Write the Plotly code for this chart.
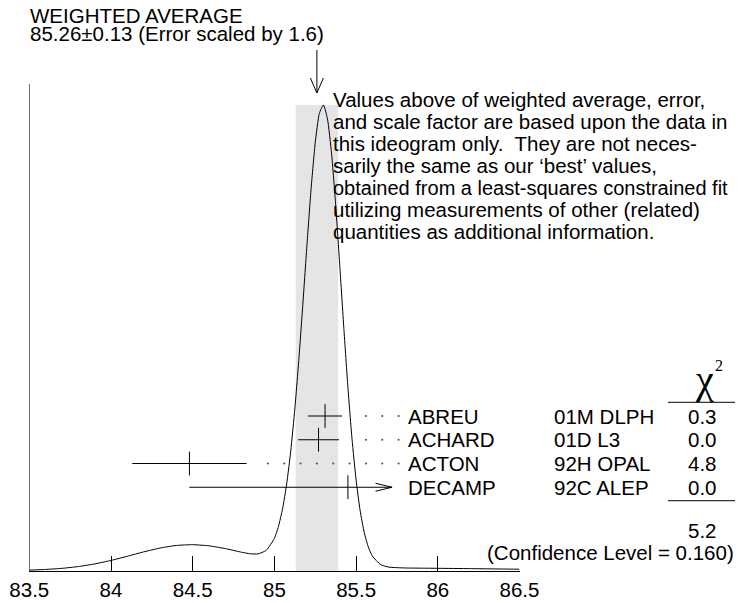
import plotly.graph_objects as go

# ---------------- data ----------------
authors = ["ABREU", "ACHARD", "ACTON", "DECAMP"]
refs = ["01M DLPH", "01D L3", "92H OPAL", "92C ALEP"]
values = [85.31, 85.27, 84.48, 85.45]
errors = [0.104, 0.125, 0.35, 0.97]
chi2 = ["0.3", "0.0", "4.8", "0.0"]
chi2_total = "5.2"
conf_level = "0.160"
w_avg = 85.26
w_err = 0.13
scale_factor = 1.6

tick_vals = [83.5, 84, 84.5, 85, 85.5, 86, 86.5]
tick_text = ["83.5", "84", "84.5", "85", "85.5", "86", "86.5"]

# ideogram curve (arbitrary height units)
ideogram_x = [83.5, 83.6, 83.7, 83.8, 83.9, 84.0, 84.1, 84.2, 84.3, 84.4, 84.5,
              84.6, 84.7, 84.8, 84.85, 84.9, 84.95, 85.0, 85.025, 85.05, 85.075,
              85.1, 85.125, 85.15, 85.175, 85.2, 85.225, 85.25, 85.275, 85.3,
              85.325, 85.35, 85.375, 85.4, 85.425, 85.45, 85.475, 85.5, 85.525,
              85.55, 85.575, 85.6, 85.65, 85.7, 85.8, 85.9, 86.0, 86.2, 86.4, 86.5]
ideogram_y = [0.30, 0.52, 0.89, 1.49, 2.36, 3.53, 4.93, 6.39, 7.67, 8.54, 8.80,
              8.42, 7.49, 6.27, 5.77, 5.72, 6.89, 10.95, 14.93, 20.80, 29.07,
              40.11, 54.17, 71.02, 89.93, 109.58, 128.11, 143.27, 153.01, 155.82,
              151.13, 139.49, 122.44, 102.20, 81.13, 61.31, 44.15, 30.39, 20.06,
              12.79, 7.98, 4.96, 2.14, 1.30, 1.01, 0.95, 0.90, 0.79, 0.66, 0.59]

note_lines = [
    "Values above of weighted average, error,",
    "and scale factor are based upon the data in",
    "this ideogram only.  They are not neces-",
    "sarily the same as our \u2018best\u2019 values,",
    "obtained from a least-squares constrained fit",
    "utilizing measurements of other (related)",
    "quantities as additional information.",
]

# ---------------- layout constants ----------------
W, H = 743, 603
OFF = 8                    # page body margin offset
AXIS_Y = 571 - OFF         # x-axis line position inside the figure
B = H - AXIS_Y
PH = AXIS_Y                # plot height in px (t = 0)
FONT = "Liberation Sans, Arial, Helvetica, sans-serif"
SERIF = "Liberation Serif, Times New Roman, serif"
FS = 20.5
RIGHT_EDGE = 734.5         # last visible page pixel column
clip_x = 85.72  # right limit where long error bars are cut with an arrow


def px(xr):
    return (xr - OFF) / W


def py(yr):
    return (PH - (yr - OFF)) / PH


row_unit = 23.75
r0 = -(PH - (416 - OFF)) / row_unit
r1 = r0 + PH / row_unit
rows = [-i for i in range(len(authors))]

fig = go.Figure()

# ideogram curve
fig.add_trace(go.Scatter(x=ideogram_x, y=ideogram_y, mode="lines",
                         line=dict(color="black", width=1, shape="spline", smoothing=0.5),
                         hoverinfo="skip", showlegend=False))

# error bars
plus = [min(v + e, clip_x) - v for v, e in zip(values, errors)]
minus = errors
fig.add_trace(go.Scatter(
    x=values, y=rows, yaxis="y2", mode="markers",
    marker=dict(symbol="line-ns", size=17, color="black", line=dict(width=1, color="black")),
    error_x=dict(type="data", symmetric=False, array=plus, arrayminus=minus,
                 width=0, thickness=1, color="black"),
    showlegend=False, hoverinfo="skip"))

# leader dots
grid = [84.96 + 0.1 * k for k in range(9)]
dx, dy = [], []
for v, e, r in zip(values, errors, rows):
    if v + e > clip_x:
        continue
    for g in grid:
        if g > v + e + 0.098:
            dx.append(g)
            dy.append(r)
fig.add_trace(go.Scatter(x=dx, y=dy, yaxis="y2", mode="markers",
                         marker=dict(size=2.2, color="#555"),
                         showlegend=False, hoverinfo="skip"))

shapes = []
# weighted average band
shapes.append(dict(type="rect", xref="x", yref="y", x0=w_avg - w_err, x1=w_avg + w_err,
                   y0=0, y1=max(ideogram_y), fillcolor="#e5e5e5", line=dict(width=0),
                   layer="below"))
# left vertical axis line
shapes.append(dict(type="line", xref="x", yref="paper", x0=83.5, x1=83.5,
                   y0=0, y1=py(84), line=dict(color="black", width=1)))
# weighted average arrow
shapes.append(dict(type="line", xref="x", yref="paper", x0=w_avg, x1=w_avg,
                   y0=py(50), y1=py(93), line=dict(color="black", width=1)))
shapes.append(dict(type="path", xref="x", yref="paper", xsizemode="pixel", ysizemode="pixel",
                   xanchor=w_avg, yanchor=py(93), path="M-6.5,15 L0,0 L6.5,15",
                   line=dict(color="black", width=1)))
# arrows on clipped error bars
for v, e, r in zip(values, errors, rows):
    if v + e > clip_x:
        shapes.append(dict(type="path", xref="x", yref="y2", xsizemode="pixel",
                           ysizemode="pixel", xanchor=clip_x, yanchor=r,
                           path="M-16.5,4 L0,0 L-16.5,-4",
                           line=dict(color="black", width=1)))
# chi2 underlines
for yl in (402.3, 500.7):
    shapes.append(dict(type="line", xref="paper", yref="paper", x0=px(668), x1=px(745),
                       y0=py(yl), y1=py(yl), line=dict(color="#333", width=1.3)))

ann = []


def text(x, y, s, size=FS, xanchor="left", yref="paper", family=FONT):
    ann.append(dict(x=x, y=y, xref="paper", yref=yref, text=s, showarrow=False,
                    xanchor=xanchor, yanchor="middle",
                    font=dict(family=family, size=size, color="black")))


text(px(28), py(15.5), "WEIGHTED AVERAGE")
text(px(28), py(34), f"{w_avg:.2f}\u00b1{w_err:.2f} (Error scaled by {scale_factor})")
for k, line in enumerate(note_lines):
    # the longest line is slightly shrunk so that it stays inside the visible page
    text(px(331), py(100 + 21.9 * k), line, size=FS if k != 4 else 20.0)
for a, rf, c, r in zip(authors, refs, chi2, rows):
    text(px(406), r, a, yref="y2")
    text(px(552), r, rf, yref="y2")
    text(px(702.5), r, c, xanchor="center", yref="y2")
text(px(702.5), py(530), chi2_total, xanchor="center")
text(px(RIGHT_EDGE + 1), py(552), f"(Confidence Level = {conf_level})", xanchor="right")
text(px(704), py(379.5), "\u03c7", size=40, xanchor="center", family=SERIF)
text(px(718.5), py(365), "2", size=16, xanchor="center", family=SERIF)

fig.update_layout(
    width=W, height=H,
    margin=dict(l=0, r=0, t=0, b=B, pad=0, autoexpand=False),
    paper_bgcolor="white", plot_bgcolor="white",
    showlegend=False,
    shapes=shapes, annotations=ann,
    xaxis=dict(domain=[(29.3 - OFF) / W, (519.5 - OFF) / W], range=[83.5, 86.5],
               showgrid=False, automargin=False,
               zeroline=False, showline=True, linecolor="black", linewidth=1,
               ticks="inside", ticklen=15, tickwidth=1, tickcolor="black",
               tickvals=tick_vals, ticktext=tick_text,
               tickfont=dict(family=FONT, size=FS, color="black")),
    yaxis=dict(range=[0, PH * 155.82 / 466], visible=False, fixedrange=True,
               automargin=False),
    yaxis2=dict(range=[r0, r1], overlaying="y", visible=False, automargin=False),
)

fig.write_html("out.html")
